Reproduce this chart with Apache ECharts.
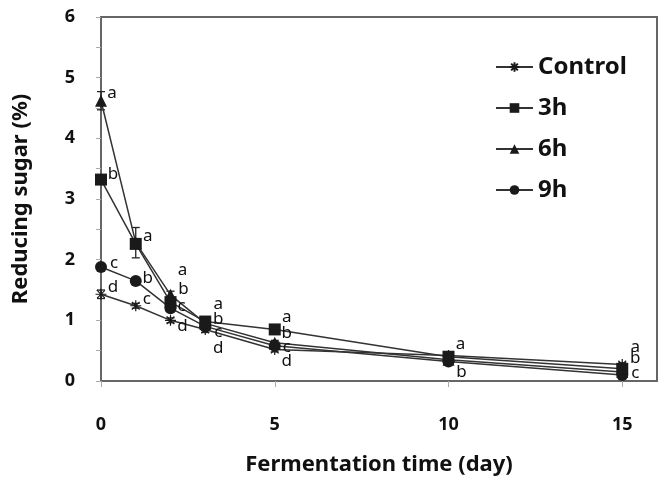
<!DOCTYPE html>
<html lang="en">
  <head>
    <meta charset="UTF-8" />
    <title>Reducing sugar</title>
    <style>
      html, body { margin: 0; padding: 0; background: #fff; }
      #chart { width: 665px; height: 481px; }
    </style>
  </head>
  <body>
    <div id="chart"></div>
    <script src="https://cdn.jsdelivr.net/npm/echarts@6/dist/echarts.min.js"></script>
    <script>
      // fermentation days
      var days = [0, 1, 2, 3, 5, 10, 15]
      var seriesNames = ['Control', '3h', '6h', '9h']
      // reducing sugar (%)
      var control = [1.43, 1.24, 1.0, 0.85, 0.52, 0.42, 0.27]
      var h3 = [3.32, 2.26, 1.30, 0.98, 0.85, 0.40, 0.20]
      var h6 = [4.62, 2.28, 1.42, 0.95, 0.63, 0.35, 0.15]
      var h9 = [1.88, 1.65, 1.20, 0.90, 0.58, 0.32, 0.10]
      // error bars (+/-)
      var errControl = [0.07, 0.04, 0.04, 0.05, 0.04, 0.03, 0.03]
      var errH3 = [0.05, 0.05, 0.05, 0.05, 0.04, 0.03, 0.03]
      var errH6 = [0.15, 0.25, 0.06, 0.08, 0.04, 0.03, 0.03]
      var errH9 = [0.04, 0.04, 0.05, 0.05, 0.04, 0.03, 0.03]
      // significance letters
      var lettersControl = ['d', 'c', 'd', 'd', 'd', 'a', 'a']
      var lettersH3 = ['b', 'a', 'b', 'a', 'a', '', 'b']
      var lettersH6 = ['a', '', 'a', 'b', 'b', '', '']
      var lettersH9 = ['c', 'b', 'c', 'c', 'c', 'b', 'c']
      var yTicks = [0, 1, 2, 3, 4, 5, 6]
      var xTicks = [0, 5, 10, 15]

      // label placement (pixels from the marker centre)
      var offControl = [[12, -7], [11, -7], [12, 6], [13, 19], [12, 12], [12, -11], [13, -17]]
      var offH3 = [[12, -5], [12, -8], [13, -13], [13, -17], [12, -12], [0, 0], [13, -11]]
      var offH6 = [[11, -8], [0, 0], [12, -25], [13, -4], [12, -10], [0, 0], [0, 0]]
      var offH9 = [[13, -4], [12, -3], [11, -2], [13, 6], [12, 1], [13, 11], [13, -2]]

      var font = 'Noto Sans'
      var ink = '#1a1a1a'
      var asterisk = 'path://M5,0L5,10M0,5L10,5M1.5,1.5L8.5,8.5M8.5,1.5L1.5,8.5'

      function buildData(vals, letters, offs) {
        return days.map(function (d, i) {
          return {
            value: [d, vals[i]],
            label: {
              show: letters[i] !== '',
              formatter: letters[i],
              position: 'inside',
              offset: offs[i]
            }
          }
        })
      }

      function errData(vals, errs) {
        return days.map(function (d, i) {
          return [d, vals[i] - errs[i], vals[i] + errs[i]]
        })
      }

      function lineSeries(name, vals, letters, offs, symbol, size) {
        return {
          name: name,
          type: 'line',
          data: buildData(vals, letters, offs),
          symbol: symbol,
          symbolSize: size,
          z: 3,
          lineStyle: { color: '#333', width: 1.5 },
          itemStyle: symbol === asterisk
            ? { color: 'transparent', borderColor: ink, borderWidth: 1.2 }
            : { color: ink, borderWidth: 0 },
          label: { color: '#111', fontFamily: font, fontSize: 17 },
          emphasis: { disabled: true },
          animation: false
        }
      }

      function errSeries(vals, errs) {
        return {
          type: 'custom',
          data: errData(vals, errs),
          z: 2,
          silent: true,
          animation: false,
          renderItem: function (params, api) {
            var lo = api.coord([api.value(0), api.value(1)])
            var hi = api.coord([api.value(0), api.value(2)])
            var w = 4
            var st = { stroke: '#222', lineWidth: 1.3 }
            return {
              type: 'group',
              children: [
                { type: 'line', shape: { x1: lo[0], y1: lo[1], x2: hi[0], y2: hi[1] }, style: st },
                { type: 'line', shape: { x1: lo[0] - w, y1: lo[1], x2: lo[0] + w, y2: lo[1] }, style: st },
                { type: 'line', shape: { x1: hi[0] - w, y1: hi[1], x2: hi[0] + w, y2: hi[1] }, style: st }
              ]
            }
          }
        }
      }

      var chart = echarts.init(document.getElementById('chart'))
      chart.setOption({
        animation: false,
        grid: {
          left: 101, right: 8, top: 17, bottom: 94,
          show: true, borderColor: '#666', borderWidth: 2
        },
        legend: {
          orient: 'vertical',
          left: 490, top: 50,
          itemWidth: 37, itemHeight: 12, itemGap: 17,
          data: seriesNames,
          textStyle: { fontFamily: font, fontSize: 24, fontWeight: 'bold', color: '#111' }
        },
        xAxis: {
          type: 'value', min: 0, max: 16, interval: 5,
          name: 'Fermentation time (day)',
          nameLocation: 'middle', nameGap: 73,
          nameTextStyle: { fontFamily: font, fontSize: 22, fontWeight: 'bold', color: '#111' },
          axisLine: { lineStyle: { color: '#666', width: 2 } },
          axisTick: { show: true, customValues: xTicks, length: 6, lineStyle: { color: '#aaa' } },
          axisLabel: { customValues: xTicks, margin: 35, fontFamily: font, fontSize: 18, fontWeight: 'bold', color: '#111' },
          splitLine: { show: false }
        },
        yAxis: {
          type: 'value', min: 0, max: 6, interval: 0.5,
          name: 'Reducing sugar (%)',
          nameLocation: 'middle', nameGap: 69,
          nameTextStyle: { fontFamily: font, fontSize: 22, fontWeight: 'bold', color: '#111' },
          axisLine: { show: true, lineStyle: { color: '#666', width: 2 } },
          axisTick: { show: true, length: 5, lineStyle: { color: '#aaa' } },
          axisLabel: {
            customValues: yTicks, margin: 26,
            fontFamily: font, fontSize: 18, fontWeight: 'bold', color: '#111'
          },
          splitLine: { show: false }
        },
        series: [
          errSeries(control, errControl),
          errSeries(h3, errH3),
          errSeries(h6, errH6),
          errSeries(h9, errH9),
          lineSeries('Control', control, lettersControl, offControl, asterisk, 11),
          lineSeries('3h', h3, lettersH3, offH3, 'rect', 12),
          lineSeries('6h', h6, lettersH6, offH6, 'triangle', 12),
          lineSeries('9h', h9, lettersH9, offH9, 'circle', 12)
        ]
      })
    </script>
  </body>
</html>
